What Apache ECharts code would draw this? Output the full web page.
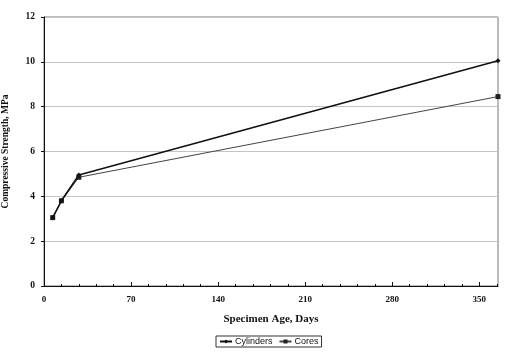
<!DOCTYPE html>
<html><head><meta charset="utf-8">
<script src="https://cdn.jsdelivr.net/npm/echarts@6/dist/echarts.min.js"></script>
<style>html,body{margin:0;padding:0;background:#fff}#c{width:517px;height:356px}</style>
</head><body><div id="c"></div>
<script>
const ageDays = [7, 14, 28, 365];
const cylinders = [3.05, 3.8, 4.95, 10.05];
const cores = [3.05, 3.8, 4.85, 8.45];
const xTicks = [0, 70, 140, 210, 280, 350];
const yTicks = [0, 2, 4, 6, 8, 10, 12];

const serif = '"Liberation Serif", "DejaVu Serif", serif';
const chart = echarts.init(document.getElementById('c'));
chart.setOption({
  animation: false,
  backgroundColor: '#fff',
  grid: {left: 44, right: 19, top: 17, bottom: 70, show: true, borderColor: '#777', borderWidth: 1,
         containLabel: false, outerBoundsMode: 'none'},
  legend: {
    left: 216, top: 336, itemWidth: 12, itemHeight: 5, itemGap: 6,
    padding: [1, 3], borderColor: '#333', borderWidth: 1,
    textStyle: {fontFamily: '"Liberation Sans", Arial, sans-serif', fontSize: 9, color: '#111', padding: [0,0,0,-2]},
    data: ['Cylinders', 'Cores']
  },
  xAxis: {
    type: 'value', min: 0, max: 365, interval: 70,
    name: 'Specimen Age, Days', nameLocation: 'middle', nameGap: 28,
    nameTextStyle: {fontFamily: serif, fontSize: 11, fontWeight: 'bold', color: '#111'},
    axisLine: {lineStyle: {color: '#111', width: 1}},
    axisTick: {inside: true, length: 4, lineStyle: {color: '#111'}, customValues: xTicks},
    minorTick: {show: true, splitNumber: 5, length: 2, lineStyle: {color: '#111'}},
    axisLabel: {customValues: xTicks, fontFamily: serif, fontSize: 9, fontWeight: 'bold', color: '#111', margin: 9},
    splitLine: {show: false}
  },
  yAxis: {
    type: 'value', min: 0, max: 12, interval: 2,
    name: 'Compressive Strength, MPa', nameLocation: 'middle', nameGap: 33,
    nameTextStyle: {fontFamily: serif, fontSize: 9.5, fontWeight: 'bold', color: '#111'},
    axisLine: {show: true, lineStyle: {color: '#111', width: 1}},
    axisTick: {show: true, length: 3, lineStyle: {color: '#111'}},
    axisLabel: {fontFamily: serif, fontSize: 9.5, fontWeight: 'bold', color: '#111', margin: 9},
    splitLine: {show: true, lineStyle: {color: '#c4c4c4', width: 1}}
  },
  series: [
    {name: 'Cylinders', type: 'line', data: ageDays.map((d,i)=>[d, cylinders[i]]),
     symbol: 'diamond', symbolSize: 5, z: 3,
     lineStyle: {color: '#111', width: 1.6}, itemStyle: {color: '#111'}},
    {name: 'Cores', type: 'line', data: ageDays.map((d,i)=>[d, cores[i]]),
     symbol: 'rect', symbolSize: 5, z: 2,
     lineStyle: {color: '#444', width: 1}, itemStyle: {color: '#222'}}
  ]
});
</script></body></html>
